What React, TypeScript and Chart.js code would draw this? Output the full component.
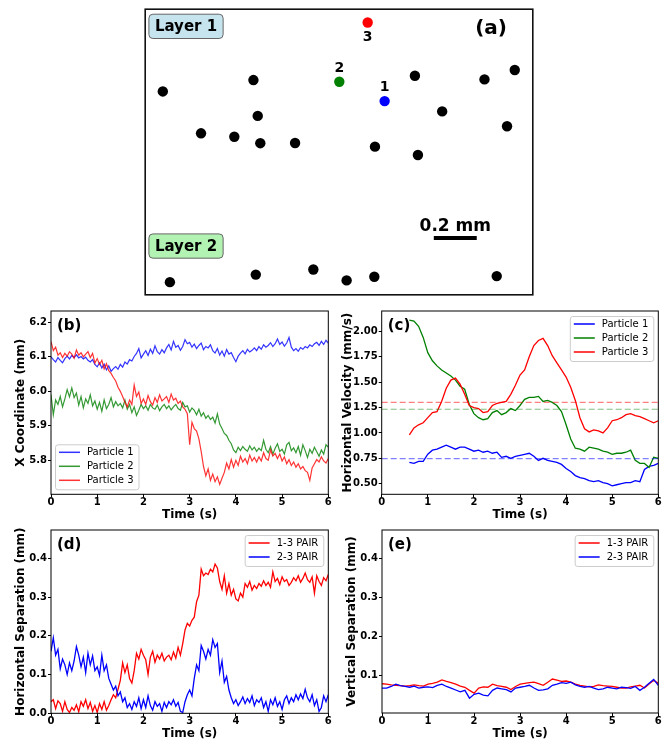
import React, { useEffect, useRef } from 'react';
import { Chart, registerables } from 'chart.js';

Chart.register(...registerables);

const FONT = '"DejaVu Sans", "Liberation Sans", sans-serif';

// ---------------- Panel (a): particle positions (mm) ----------------
const FIELD_WIDTH_MM = 1.805;
const FIELD_HEIGHT_MM = 1.33;
const SCALE_BAR_MM = 0.2;
const SCALE_BAR_LABEL = '0.2 mm';
const LAYER_NAMES = ['Layer 1', 'Layer 2'];
const LAYER1_X = [0.082, 0.504, 0.524, 0.26, 0.415, 0.536, 0.698, 1.07, 1.256, 1.383, 1.27, 1.58, 1.721, 1.685];
const LAYER1_Y = [0.947, 1.0, 0.833, 0.752, 0.736, 0.706, 0.707, 0.69, 1.02, 0.854, 0.651, 1.003, 1.047, 0.785];
const LAYER2_X = [0.115, 0.515, 0.783, 0.938, 1.067, 1.637];
const LAYER2_Y = [0.059, 0.094, 0.118, 0.067, 0.084, 0.087];
const TRACKED_NAMES = ['1', '2', '3'];
const TRACKED_X = [1.115, 0.904, 1.036];
const TRACKED_Y = [0.902, 0.992, 1.268];

// ---------------- Common time axis ----------------
const X_TICKS = [0, 1, 2, 3, 4, 5, 6];
const STEP_FINE = 0.05;
const STEP_COARSE = 0.1;
const START_C = 0.6;

// ---------------- Panel (b): X coordinate (mm) ----------------
const PARTICLE_LABELS = ['Particle 1', 'Particle 2', 'Particle 3'];
const Y_TICKS_B = [5.8, 5.9, 6.0, 6.1, 6.2];
const X_P1 = [
  6.1, 6.092, 6.085, 6.098, 6.09, 6.083, 6.095, 6.102, 6.094, 6.104,
  6.098, 6.106, 6.097, 6.101, 6.094, 6.099, 6.09, 6.085, 6.092, 6.078,
  6.071, 6.083, 6.068, 6.079, 6.062, 6.074, 6.058, 6.066, 6.072, 6.064,
  6.078, 6.07, 6.085, 6.079, 6.092, 6.088, 6.101, 6.11, 6.124, 6.097,
  6.108, 6.118, 6.104, 6.122, 6.11, 6.132, 6.115, 6.108, 6.121, 6.112,
  6.126, 6.136, 6.12, 6.145, 6.128, 6.133, 6.119, 6.13, 6.15, 6.138,
  6.142, 6.128, 6.137, 6.124, 6.133, 6.14, 6.121, 6.13, 6.126, 6.135,
  6.118, 6.111, 6.124, 6.105, 6.117, 6.102, 6.121, 6.108, 6.112, 6.098,
  6.086, 6.102, 6.111, 6.118, 6.109, 6.122, 6.114, 6.119, 6.126, 6.118,
  6.13, 6.122, 6.135, 6.128, 6.133, 6.141, 6.13, 6.138, 6.152, 6.136,
  6.143, 6.131, 6.14, 6.156, 6.128, 6.118, 6.124, 6.116, 6.127, 6.122,
  6.13, 6.126, 6.135, 6.13, 6.138, 6.142, 6.133, 6.145, 6.136, 6.148,
  6.14,
];
const X_P2 = [
  5.99, 5.932, 5.975, 5.962, 5.985, 5.955, 5.978, 6.005, 5.984, 6.01,
  5.982, 5.995, 5.96, 5.985, 5.952, 5.978, 5.965, 5.99, 5.958, 5.972,
  5.948, 5.968, 5.942, 5.975, 5.95, 5.962, 5.982, 5.955, 5.97, 5.958,
  5.965, 5.952, 5.975, 5.948, 5.962, 5.938, 5.955, 5.93, 5.945, 5.962,
  5.95, 5.958, 5.945, 5.962, 5.952, 5.948, 5.96, 5.944, 5.955, 5.962,
  5.95, 5.958, 5.946, 5.955, 5.962, 5.95, 5.945, 5.968, 5.955, 5.958,
  5.94, 5.952, 5.945, 5.932, 5.948, 5.928, 5.938, 5.922, 5.93, 5.918,
  5.925, 5.908, 5.935, 5.905, 5.892, 5.878, 5.872, 5.858, 5.848, 5.83,
  5.822, 5.838, 5.828, 5.84, 5.832, 5.826, 5.842, 5.83, 5.838, 5.826,
  5.835, 5.828, 5.858, 5.832, 5.822, 5.84, 5.818, 5.835, 5.848, 5.826,
  5.832, 5.818, 5.845, 5.852, 5.828, 5.836, 5.822, 5.84, 5.815, 5.845,
  5.828, 5.808, 5.832, 5.82, 5.838, 5.825, 5.812, 5.83, 5.818, 5.845,
  5.838,
];
const X_P3 = [
  6.144, 6.118, 6.128, 6.105, 6.112, 6.098, 6.11, 6.102, 6.115, 6.108,
  6.096, 6.12, 6.105, 6.112, 6.1, 6.108, 6.115, 6.098, 6.11, 6.082,
  6.095, 6.078, 6.09, 6.065, 6.08, 6.06, 6.052, 6.04, 6.03, 6.012,
  6.0, 5.985, 5.968, 5.955, 5.975, 5.962, 6.018, 5.985, 5.998, 5.965,
  5.978, 5.962, 5.988, 5.97, 5.96, 5.982, 5.968, 5.99, 5.972, 5.978,
  5.985, 5.968, 5.992, 5.975, 5.98, 5.965, 5.972, 5.955, 5.948, 5.935,
  5.845, 5.91, 5.892, 5.885, 5.862, 5.825, 5.782, 5.755, 5.775, 5.742,
  5.76, 5.738, 5.752, 5.73, 5.748, 5.765, 5.792, 5.775, 5.802, 5.78,
  5.8, 5.785, 5.812, 5.795, 5.805, 5.79, 5.815, 5.798, 5.808, 5.795,
  5.81, 5.798, 5.822, 5.805, 5.8, 5.83, 5.812, 5.82, 5.805, 5.818,
  5.798, 5.81, 5.79, 5.802, 5.785, 5.795, 5.78, 5.79, 5.775, 5.782,
  5.77, 5.765, 5.742, 5.778, 5.79, 5.802, 5.795, 5.81, 5.798, 5.792,
  5.805,
];

// ---------------- Panel (c): horizontal velocity (mm/s) ----------------
const Y_TICKS_C = [0.5, 0.75, 1.0, 1.25, 1.5, 1.75, 2.0];
const VEL_P1 = [
  0.71, 0.7, 0.72, 0.72,
  0.79, 0.83, 0.84, 0.86, 0.88, 0.86, 0.84, 0.86, 0.86, 0.84,
  0.82, 0.83, 0.81, 0.82, 0.8, 0.81, 0.76, 0.77, 0.75, 0.77,
  0.78, 0.79, 0.8, 0.77, 0.73, 0.75, 0.73, 0.72, 0.71, 0.69,
  0.65, 0.62, 0.58, 0.56, 0.55, 0.53, 0.52, 0.53, 0.51, 0.5,
  0.48, 0.49, 0.5, 0.51, 0.51, 0.53, 0.52, 0.64, 0.67, 0.68,
  0.7,
];
const VEL_P2 = [
  2.11, 2.1, 2.05, 1.94,
  1.79, 1.71, 1.66, 1.62, 1.59, 1.56, 1.52, 1.46, 1.43, 1.28,
  1.19, 1.15, 1.13, 1.14, 1.2, 1.22, 1.18, 1.2, 1.24, 1.22,
  1.27, 1.33, 1.35, 1.35, 1.36, 1.31, 1.32, 1.3, 1.27, 1.21,
  1.08, 0.94, 0.85, 0.84, 0.82, 0.86, 0.85, 0.84, 0.82, 0.81,
  0.79, 0.8, 0.8, 0.81, 0.83, 0.73, 0.7, 0.7, 0.66, 0.76,
  0.75,
];
const VEL_P3 = [
  0.98, 1.05, 1.08, 1.1,
  1.15, 1.2, 1.21, 1.31, 1.44, 1.52, 1.54, 1.48, 1.38, 1.27,
  1.25, 1.24, 1.2, 1.21, 1.27, 1.29, 1.3, 1.31, 1.38, 1.47,
  1.57, 1.62, 1.75, 1.86, 1.91, 1.93, 1.86, 1.76, 1.69, 1.62,
  1.55, 1.45, 1.32, 1.15, 1.04, 1.01, 1.03, 1.02, 1.0, 1.05,
  1.12, 1.13, 1.15, 1.18, 1.19, 1.17, 1.16, 1.14, 1.12, 1.1,
  1.12,
];
const MEAN_VEL = [0.747, 1.233, 1.3];

// ---------------- Panels (d), (e): pair separations (mm) ----------------
const PAIR_LABELS = ['1-3 PAIR', '2-3 PAIR'];
const Y_TICKS_D = [0.0, 0.1, 0.2, 0.3, 0.4];
const Y_TICKS_E = [0.1, 0.2, 0.3, 0.4];
const HSEP_13 = [
  0.03, 0.035, 0.012, 0.032, 0.025, 0.005, 0.03, 0.01, 0.002, 0.015,
  0.008, 0.022, 0.004, 0.03, 0.018, 0.035, 0.012, 0.028, 0.005, 0.02,
  0.002, 0.025, 0.01, 0.03, 0.008, 0.02, 0.035, 0.048, 0.04, 0.062,
  0.085, 0.13, 0.105, 0.125, 0.09, 0.078, 0.11, 0.155, 0.14, 0.165,
  0.15, 0.138, 0.1, 0.145, 0.16, 0.132, 0.15, 0.14, 0.155, 0.135,
  0.145, 0.15, 0.138, 0.158, 0.142, 0.17, 0.15, 0.18, 0.215, 0.232,
  0.225, 0.24, 0.248, 0.288, 0.305, 0.372, 0.355, 0.362, 0.358, 0.372,
  0.365, 0.385, 0.375, 0.34, 0.32, 0.355, 0.31, 0.335, 0.305, 0.32,
  0.295, 0.29, 0.31, 0.3, 0.335, 0.325, 0.34, 0.318, 0.33, 0.322,
  0.335, 0.328, 0.342, 0.33, 0.338, 0.325, 0.365, 0.34, 0.348, 0.332,
  0.352, 0.34, 0.345, 0.33, 0.338, 0.35, 0.342, 0.355, 0.338, 0.348,
  0.362, 0.345, 0.338, 0.352, 0.31, 0.355, 0.34, 0.33, 0.35, 0.342,
  0.358,
];
const HSEP_23 = [
  0.16, 0.195, 0.15, 0.165, 0.115, 0.14, 0.125, 0.1, 0.13, 0.11,
  0.135, 0.172, 0.15, 0.12, 0.145, 0.105, 0.155, 0.125, 0.148, 0.11,
  0.12, 0.098, 0.15, 0.11, 0.125, 0.09, 0.075, 0.06, 0.07, 0.045,
  0.055, 0.03, 0.04, 0.015, 0.025, 0.01, 0.03, 0.018, 0.04, 0.012,
  0.035, 0.015, 0.045, 0.02, 0.008, 0.03, 0.018, 0.025, 0.005, 0.028,
  0.015, 0.03, 0.022, 0.035, 0.018, 0.028, 0.005, 0.002, 0.03, 0.048,
  0.06, 0.045, 0.09, 0.125, 0.11, 0.175, 0.16, 0.14, 0.165, 0.15,
  0.19, 0.17, 0.18, 0.105, 0.135, 0.08, 0.095, 0.06, 0.04, 0.025,
  0.035, 0.02, 0.03, 0.042, 0.025, 0.038, 0.028, 0.045, 0.02, 0.035,
  0.028, 0.04, 0.015, 0.03, 0.005, 0.035, 0.022, 0.04, 0.018, 0.03,
  0.01, 0.035, 0.045, 0.025, 0.04, 0.03, 0.048, 0.035, 0.05, 0.038,
  0.062, 0.04, 0.03, 0.048, 0.02, 0.035, 0.005, 0.015, 0.045, 0.03,
  0.048,
];
const VSEP_13 = [
  0.079, 0.078, 0.076, 0.075, 0.074, 0.073, 0.074, 0.076, 0.074, 0.073,
  0.078, 0.08, 0.083, 0.089, 0.085, 0.082, 0.078, 0.073, 0.07, 0.062,
  0.055, 0.068, 0.071, 0.07, 0.078, 0.074, 0.072, 0.07, 0.064, 0.072,
  0.078, 0.08, 0.082, 0.083, 0.079, 0.075, 0.083, 0.091, 0.088, 0.085,
  0.086, 0.083, 0.078, 0.075, 0.073, 0.071, 0.072, 0.076, 0.074, 0.073,
  0.072, 0.07, 0.068, 0.068, 0.071, 0.073, 0.075, 0.068, 0.078, 0.088,
  0.08,
];
const VSEP_23 = [
  0.068, 0.068, 0.072, 0.078, 0.074, 0.072, 0.07, 0.073, 0.068, 0.07,
  0.071, 0.069, 0.075, 0.078, 0.072, 0.068, 0.063, 0.058, 0.062, 0.042,
  0.052, 0.055, 0.05, 0.048, 0.062, 0.068, 0.066, 0.064, 0.058, 0.068,
  0.07, 0.072, 0.075, 0.068, 0.062, 0.063, 0.066, 0.075, 0.078, 0.082,
  0.08, 0.083, 0.076, 0.072, 0.07, 0.072, 0.068, 0.064, 0.066, 0.07,
  0.068, 0.066, 0.07, 0.069, 0.067, 0.072, 0.062, 0.07, 0.08, 0.09,
  0.075,
];

// ---------------- helpers ----------------
const times = (n: number, start: number, step: number) =>
  Array.from({ length: n }, (_, i) => +(start + i * step).toFixed(3));
const pts = (xs: number[], ys: number[]) => ys.map((y, i) => ({ x: xs[i], y }));

const BLUE = '#0000ff';
const GREEN = '#008000';
const RED = '#ff0000';

function roundRect(ctx: CanvasRenderingContext2D, x: number, y: number, w: number, h: number, r: number) {
  ctx.beginPath();
  ctx.moveTo(x + r, y);
  ctx.lineTo(x + w - r, y);
  ctx.arcTo(x + w, y, x + w, y + r, r);
  ctx.lineTo(x + w, y + h - r);
  ctx.arcTo(x + w, y + h, x + w - r, y + h, r);
  ctx.lineTo(x + r, y + h);
  ctx.arcTo(x, y + h, x, y + h - r, r);
  ctx.lineTo(x, y + r);
  ctx.arcTo(x, y, x + r, y, r);
  ctx.closePath();
}

type LegendItem = { label: string; color: string };

function decorPlugin(panel: string, legend: LegendItem[], corner: 'll' | 'ur') {
  return {
    id: 'decor',
    afterDraw(chart: any) {
      const { ctx, chartArea: a } = chart;
      ctx.save();
      ctx.strokeStyle = '#000';
      ctx.lineWidth = 1;
      ctx.strokeRect(a.left, a.top, a.right - a.left, a.bottom - a.top);
      ctx.fillStyle = '#000';
      ctx.font = `bold 15px ${FONT}`;
      ctx.textAlign = 'left';
      ctx.textBaseline = 'alphabetic';
      ctx.fillText(panel, a.left + 6, a.top + 19);

      ctx.font = `10px ${FONT}`;
      const tw = Math.max(...legend.map((l) => ctx.measureText(l.label).width));
      const w = 32 + tw + 5;
      const h = 17 + (legend.length - 1) * 14;
      const x = corner === 'll' ? a.left + 4 : a.right - 5 - w;
      const y = corner === 'll' ? a.bottom - 5 - h : a.top + 5;
      roundRect(ctx, x + 0.5, y + 0.5, w, h, 2.5);
      ctx.fillStyle = 'rgba(255,255,255,0.85)';
      ctx.fill();
      ctx.strokeStyle = '#cccccc';
      ctx.lineWidth = 1;
      ctx.stroke();
      legend.forEach((l, i) => {
        const cy = y + 8 + i * 14;
        ctx.strokeStyle = l.color;
        ctx.lineWidth = 1.5;
        ctx.beginPath();
        ctx.moveTo(x + 4, cy);
        ctx.lineTo(x + 25, cy);
        ctx.stroke();
        ctx.fillStyle = '#000';
        ctx.textBaseline = 'middle';
        ctx.fillText(l.label, x + 32, cy);
      });
      ctx.restore();
    },
  };
}

type Series = { data: { x: number; y: number }[]; color: string; width: number; dash?: number[] };

type PanelSpec = {
  series: Series[];
  yMin: number;
  yMax: number;
  yTicks: number[];
  yDecimals: number;
  yTitle: string;
  panel: string;
  legend: LegendItem[];
  corner: 'll' | 'ur';
  yWidth: number;
  xHeight: number;
  padTop: number;
  padRight: number;
  yTitlePad: number;
  xTitlePad: number;
};

function lineConfig(s: PanelSpec): any {
  const tickFont = { family: FONT, size: 10, weight: 'bold', lineHeight: 1 };
  const titleFont = { family: FONT, size: 12, weight: 'bold', lineHeight: 1 };
  const grid = {
    display: true,
    drawOnChartArea: false,
    drawTicks: true,
    tickLength: 3,
    color: '#000',
    lineWidth: 1,
  };
  return {
    type: 'line',
    data: {
      datasets: s.series.map((sr, i) => ({
        data: sr.data,
        borderColor: sr.color,
        backgroundColor: sr.color,
        borderWidth: sr.width,
        borderDash: sr.dash || [],
        pointRadius: 0,
        tension: 0,
        fill: false,
        order: -i,
      })),
    },
    options: {
      responsive: false,
      animation: false,
      devicePixelRatio: 1,
      events: [],
      layout: { padding: { top: s.padTop, right: s.padRight, left: 0, bottom: 0 } },
      plugins: { legend: { display: false }, tooltip: { enabled: false } },
      scales: {
        x: {
          type: 'linear',
          min: 0,
          max: 6,
          afterBuildTicks: (sc: any) => {
            sc.ticks = X_TICKS.map((v) => ({ value: v }));
          },
          afterFit: (sc: any) => {
            sc.height = s.xHeight;
          },
          ticks: {
            font: tickFont,
            color: '#000',
            padding: 0,
            maxRotation: 0,
            autoSkip: false,
            callback: (v: any) => String(v),
          },
          grid,
          border: { display: false },
          title: {
            display: true,
            text: 'Time (s)',
            font: titleFont,
            color: '#000',
            padding: { top: 0, bottom: s.xTitlePad },
          },
        },
        y: {
          type: 'linear',
          min: s.yMin,
          max: s.yMax,
          afterBuildTicks: (sc: any) => {
            sc.ticks = s.yTicks.map((v) => ({ value: v }));
          },
          afterFit: (sc: any) => {
            sc.width = s.yWidth;
          },
          ticks: {
            font: tickFont,
            color: '#000',
            padding: 1,
            autoSkip: false,
            callback: (v: any) => Number(v).toFixed(s.yDecimals),
          },
          grid,
          border: { display: false },
          title: {
            display: true,
            text: s.yTitle,
            font: titleFont,
            color: '#000',
            padding: { top: s.yTitlePad, bottom: 0 },
          },
        },
      },
    },
    plugins: [decorPlugin(s.panel, s.legend, s.corner)],
  };
}

const panelAPlugin = {
  id: 'panelA',
  afterDraw(chart: any) {
    const { ctx, chartArea: a, scales } = chart;
    const xs = scales.x;
    const ys = scales.y;
    ctx.save();
    ctx.strokeStyle = '#111';
    ctx.lineWidth = 1.6;
    ctx.strokeRect(a.left, a.top, a.right - a.left, a.bottom - a.top);

    // particle numbers
    ctx.fillStyle = '#000';
    ctx.font = `bold 14px ${FONT}`;
    ctx.textAlign = 'center';
    ctx.textBaseline = 'middle';
    TRACKED_NAMES.forEach((name, i) => {
      const px = xs.getPixelForValue(TRACKED_X[i]);
      const py = ys.getPixelForValue(TRACKED_Y[i]);
      const dy = i === 2 ? 14 : -14;
      ctx.fillText(name, px, py + dy + 0.5);
    });

    // (a)
    ctx.font = `bold 20px ${FONT}`;
    ctx.textAlign = 'left';
    ctx.textBaseline = 'alphabetic';
    ctx.fillText('(a)', a.left + 330, a.top + 25);

    // layer labels
    const fills = ['#c6e4ee', '#b2f2b2'];
    const tops = [a.top + 5, a.top + 224.7];
    ctx.font = `bold 15px ${FONT}`;
    LAYER_NAMES.forEach((name, i) => {
      const tw = ctx.measureText(name).width;
      const bx = a.left + 3.7;
      const by = tops[i];
      const bw = tw + 12;
      const bh = 24.3;
      roundRect(ctx, bx, by, bw, bh, 4);
      ctx.fillStyle = fills[i];
      ctx.fill();
      ctx.strokeStyle = '#666';
      ctx.lineWidth = 1;
      ctx.stroke();
      ctx.fillStyle = '#000';
      ctx.textAlign = 'left';
      ctx.textBaseline = 'middle';
      ctx.fillText(name, bx + 6, by + bh / 2 + 1);
    });

    // scale bar
    const barStart = 1.344;
    const barY = 0.265;
    const x0 = xs.getPixelForValue(barStart);
    const x1 = xs.getPixelForValue(barStart + SCALE_BAR_MM);
    const yb = ys.getPixelForValue(barY);
    ctx.strokeStyle = '#000';
    ctx.lineWidth = 4;
    ctx.beginPath();
    ctx.moveTo(x0, yb);
    ctx.lineTo(x1, yb);
    ctx.stroke();
    ctx.font = `bold 17px ${FONT}`;
    ctx.textAlign = 'center';
    ctx.textBaseline = 'alphabetic';
    ctx.fillStyle = '#000';
    ctx.fillText(SCALE_BAR_LABEL, (x0 + x1) / 2, yb - 7);
    ctx.restore();
  },
};

function panelAConfig(): any {
  return {
    type: 'scatter',
    data: {
      datasets: [
        {
          data: pts(LAYER1_X, LAYER1_Y),
          backgroundColor: '#000',
          borderWidth: 0,
          pointRadius: 5.2,
          order: 0,
        },
        {
          data: pts(LAYER2_X, LAYER2_Y),
          backgroundColor: '#000',
          borderWidth: 0,
          pointRadius: 5.2,
          order: -1,
        },
        {
          data: pts(TRACKED_X, TRACKED_Y),
          backgroundColor: [BLUE, GREEN, RED],
          borderWidth: 0,
          pointRadius: 5.2,
          order: -2,
        },
      ],
    },
    options: {
      responsive: false,
      animation: false,
      devicePixelRatio: 1,
      events: [],
      layout: { padding: 5 },
      plugins: { legend: { display: false }, tooltip: { enabled: false } },
      scales: {
        x: { type: 'linear', display: false, min: 0, max: FIELD_WIDTH_MM },
        y: { type: 'linear', display: false, min: 0, max: FIELD_HEIGHT_MM },
      },
    },
    plugins: [panelAPlugin],
  };
}

function ChartBox(props: { left: number; top: number; width: number; height: number; make: () => any }) {
  const ref = useRef<HTMLCanvasElement>(null);
  useEffect(() => {
    const chart = new Chart(ref.current as HTMLCanvasElement, props.make());
    return () => chart.destroy();
  }, []);
  return (
    <canvas
      ref={ref}
      width={props.width}
      height={props.height}
      style={{ position: 'absolute', left: props.left, top: props.top, width: props.width, height: props.height }}
    />
  );
}

export default function App() {
  const tB = times(X_P1.length, 0, STEP_FINE);
  const tC = times(VEL_P1.length, START_C, STEP_COARSE);
  const tD = times(HSEP_13.length, 0, STEP_FINE);
  const tE = times(VSEP_13.length, 0, STEP_COARSE);

  const bCol = ['rgba(0,0,255,0.8)', 'rgba(0,128,0,0.8)', 'rgba(255,0,0,0.8)'];

  const makeB = () =>
    lineConfig({
      series: [
        { data: pts(tB, X_P1), color: bCol[0], width: 1.2 },
        { data: pts(tB, X_P2), color: bCol[1], width: 1.2 },
        { data: pts(tB, X_P3), color: bCol[2], width: 1.2 },
      ],
      yMin: 5.7014,
      yMax: 6.233,
      yTicks: Y_TICKS_B,
      yDecimals: 1,
      yTitle: 'X Coordinate (mm)',
      panel: '(b)',
      legend: PARTICLE_LABELS.map((l, i) => ({ label: l, color: bCol[i] })),
      corner: 'll',
      yWidth: 51,
      xHeight: 35.7,
      padTop: 11,
      padRight: 11.7,
      yTitlePad: 15,
      xTitlePad: 9,
    });

  const makeC = () =>
    lineConfig({
      series: [
        { data: pts(tC, VEL_P1), color: BLUE, width: 1.3 },
        { data: pts(tC, VEL_P2), color: GREEN, width: 1.3 },
        { data: pts(tC, VEL_P3), color: RED, width: 1.3 },
        { data: [{ x: 0, y: MEAN_VEL[0] }, { x: 6, y: MEAN_VEL[0] }], color: 'rgba(0,0,255,0.5)', width: 1.2, dash: [6, 3] },
        { data: [{ x: 0, y: MEAN_VEL[1] }, { x: 6, y: MEAN_VEL[1] }], color: 'rgba(0,128,0,0.5)', width: 1.2, dash: [6, 3] },
        { data: [{ x: 0, y: MEAN_VEL[2] }, { x: 6, y: MEAN_VEL[2] }], color: 'rgba(255,0,0,0.5)', width: 1.2, dash: [6, 3] },
      ],
      yMin: 0.396,
      yMax: 2.2,
      yTicks: Y_TICKS_C,
      yDecimals: 2,
      yTitle: 'Horizontal Velocity (mm/s)',
      panel: '(c)',
      legend: PARTICLE_LABELS.map((l, i) => ({ label: l, color: [BLUE, GREEN, RED][i] })),
      corner: 'ur',
      yWidth: 49.7,
      xHeight: 35.7,
      padTop: 11,
      padRight: 13.7,
      yTitlePad: 10.3,
      xTitlePad: 9,
    });

  const makeD = () =>
    lineConfig({
      series: [
        { data: pts(tD, HSEP_13), color: RED, width: 1.3 },
        { data: pts(tD, HSEP_23), color: BLUE, width: 1.3 },
      ],
      yMin: 0,
      yMax: 0.473,
      yTicks: Y_TICKS_D,
      yDecimals: 1,
      yTitle: 'Horizontal Separation (mm)',
      panel: '(d)',
      legend: [
        { label: PAIR_LABELS[0], color: RED },
        { label: PAIR_LABELS[1], color: BLUE },
      ],
      corner: 'ur',
      yWidth: 51,
      xHeight: 26.7,
      padTop: 10,
      padRight: 11.7,
      yTitlePad: 15,
      xTitlePad: 0.5,
    });

  const makeE = () =>
    lineConfig({
      series: [
        { data: pts(tE, VSEP_13), color: RED, width: 1.3 },
        { data: pts(tE, VSEP_23), color: BLUE, width: 1.3 },
      ],
      yMin: 0.004,
      yMax: 0.473,
      yTicks: Y_TICKS_E,
      yDecimals: 1,
      yTitle: 'Vertical Separation (mm)',
      panel: '(e)',
      legend: [
        { label: PAIR_LABELS[0], color: RED },
        { label: PAIR_LABELS[1], color: BLUE },
      ],
      corner: 'ur',
      yWidth: 50,
      xHeight: 27,
      padTop: 10,
      padRight: 13.7,
      yTitlePad: 14,
      xTitlePad: 0.5,
    });

  return (
    <div
      style={{
        position: 'absolute',
        left: 0,
        top: 0,
        width: 672,
        height: 740,
        background: '#fff',
        overflow: 'hidden',
      }}
    >
      <ChartBox left={140} top={4} width={398} height={296} make={panelAConfig} />
      <ChartBox left={0} top={300} width={340} height={230} make={makeB} />
      <ChartBox left={332} top={300} width={340} height={230} make={makeC} />
      <ChartBox left={0} top={520} width={340} height={220} make={makeD} />
      <ChartBox left={332} top={520} width={340} height={220} make={makeE} />
    </div>
  );
}
